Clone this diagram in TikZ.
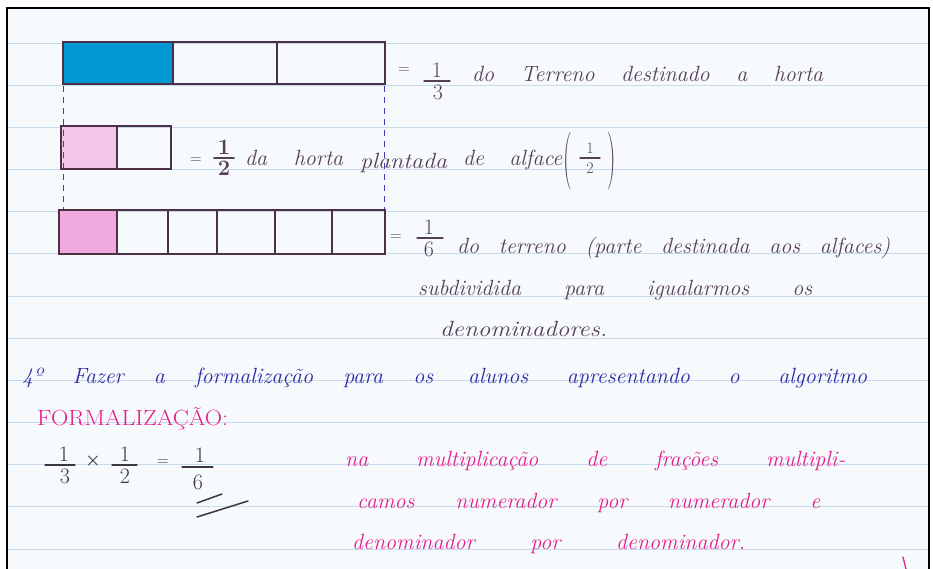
\documentclass[tikz,border=0pt]{standalone}
\usepackage{fontspec}
\usepackage{graphicx}
\definecolor{paper}{RGB}{247,250,252}
\definecolor{rulec}{RGB}{200,218,238}
\definecolor{inkc}{RGB}{85,62,88}
\definecolor{blueink}{RGB}{45,40,165}
\definecolor{pinkink}{RGB}{226,30,140}
\definecolor{boxc}{RGB}{75,50,70}
\definecolor{cyanfill}{RGB}{0,152,212}
\definecolor{pinkA}{RGB}{246,198,234}
\definecolor{pinkB}{RGB}{240,170,222}
\definecolor{dashc}{RGB}{60,60,190}
\definecolor{mathc}{RGB}{60,55,60}
\newcommand\hwl[2]{\makebox[#1][s]{#2}}
\tikzset{
  hw/.style={anchor=base west, inner sep=0pt, font=\fontsize{22}{26}\selectfont\itshape},
  dig/.style={inner sep=0pt, font=\fontsize{22}{26}\selectfont},
  sdig/.style={inner sep=0pt, font=\fontsize{16}{18}\selectfont},
  eqs/.style={inner sep=0pt, font=\fontsize{16}{18}\selectfont},
  fbar/.style={line width=1.1pt, line cap=round},
  boxline/.style={draw=boxc, line width=1.3pt},
  guide/.style={draw=dashc, line width=1pt, dash pattern=on 6pt off 5pt},
  ruling/.style={draw=rulec, line width=0.8pt},
  paren/.style={inner sep=0pt, font=\fontsize{24}{26}\selectfont}
}
\begin{document}
\begin{tikzpicture}[x=1pt,y=-1pt]
\useasboundingbox (0,0) rectangle (933,569);
\fill[white] (0,0) rectangle (933,569);
\fill[paper] (7,8) rectangle (929,569);
% ruled lines
\foreach \k in {0,...,12}{
  \draw[ruling] (8,{43+42.17*\k}) -- (928,{43+42.17*\k});
}
% frame
\draw[black, line width=2pt] (7,569) -- (7,8) -- (929,8) -- (929,569);

% bar 1 : thirds
\fill[cyanfill] (63,42) rectangle (173,84);
\draw[boxline] (63,42) rectangle (385,84);
\draw[boxline] (173,42) -- (173,84);
\draw[boxline] (277,42) -- (277,84);
% bar 2 : halves
\fill[pinkA] (61,126) rectangle (117,169);
\draw[boxline] (61,126) rectangle (171,169);
\draw[boxline] (117,126) -- (117,169);
% bar 3 : sixths
\fill[pinkB] (59,210) rectangle (117,254);
\draw[boxline] (59,210) rectangle (385,254);
\foreach \xx in {117,168,217,275,332}{
  \draw[boxline] (\xx,210) -- (\xx,254);
}
% dashed guides
\draw[guide] (63,86) -- (63,209);
\draw[guide] (384,86) -- (384,209);

% line 1
\node[eqs, text=inkc] (eq1) at (404,71) {=};
\node[dig, text=inkc, anchor=south] (n1) at (437,78) {1};
\node[dig, text=inkc, anchor=north] (d1) at (438,85) {3};
\draw[fbar, draw=inkc] (424,81) -- (450,81);
\node[hw, text=inkc] (t1) at (472,82) {\hwl{351pt}{do Terreno destinado a horta}};

% line 2
\node[eqs, text=inkc] (eq2) at (196,161) {=};
\node[dig, text=inkc, anchor=south, font=\fontsize{22}{26}\selectfont\bfseries] (n2) at (224,155) {1};
\node[dig, text=inkc, anchor=north, font=\fontsize{22}{26}\selectfont\bfseries] (d2) at (224,161) {2};
\draw[fbar, draw=inkc, line width=1.6pt] (214,158) -- (234,158);
\node[hw, text=inkc] (t2a) at (245,166) {\hwl{98pt}{da horta}};
\node[hw, text=inkc] (t2b) at (360,169) {\scalebox{1.09}[1]{plantada}};
\node[hw, text=inkc] (t2c) at (463,166) {\hwl{99pt}{de alface}};
\node[paren, text=inkc] (pl) at (568,161) {\scalebox{1}[2.4]{(}};
\node[paren, text=inkc] (pr) at (612,161) {\scalebox{1}[2.4]{)}};
\node[sdig, text=inkc, anchor=south] (n2b) at (590,154) {1};
\node[sdig, text=inkc, anchor=north] (d2b) at (590,163) {2};
\draw[fbar, draw=inkc] (580,158) -- (600,158);

% line 3
\node[eqs, text=inkc] (eq3) at (396,238) {=};
\node[dig, text=inkc, anchor=south] (n3) at (429,235) {1};
\node[dig, text=inkc, anchor=north] (d3) at (429,242) {6};
\draw[fbar, draw=inkc] (417,238) -- (443,238);
\node[hw, text=inkc] (t3) at (457,253) {\hwl{433pt}{do terreno (parte destinada aos alfaces)}};
\node[hw, text=inkc] (t4) at (418,295) {\hwl{394pt}{subdividida para igualarmos os}};
\node[hw, text=inkc] (t5) at (440,336) {\scalebox{1.14}[1]{denominadores.}};

% line 6 (blue)
\node[hw, text=blueink] (t6a) at (22,383) {\hwl{411pt}{4º Fazer a formalização para os}};
\node[hw, text=blueink] (t6b) at (468,383) {\hwl{399pt}{alunos apresentando o algoritmo}};

% formalization
\node[anchor=base west, inner sep=0pt, font=\fontsize{22}{26}\selectfont, text=pinkink] (t7) at (37,425) {\scalebox{1.09}[1]{FORMALIZAÇÃO:}};

\node[dig, text=mathc, anchor=south] (m1n) at (64,462) {1};
\node[dig, text=mathc, anchor=north] (m1d) at (65,469) {3};
\draw[fbar, draw=mathc] (45,465) -- (75,465);
\node[dig, text=mathc, font=\fontsize{18}{20}\selectfont\bfseries] (times) at (93,461) {×};
\node[dig, text=mathc, anchor=south] (m2n) at (125,462) {1};
\node[dig, text=mathc, anchor=north] (m2d) at (125,469) {2};
\draw[fbar, draw=mathc] (112,465) -- (137,465);
\node[eqs, text=mathc] (eq4) at (163,463) {=};
\node[dig, text=mathc, anchor=south] (m3n) at (200,463) {1};
\node[dig, text=mathc, anchor=north] (m3d) at (198,475) {6};
\draw[fbar, draw=mathc] (182,467) -- (213,467);
\draw[mathc, line width=1.5pt, line cap=round] (197,503) -- (222,494);
\draw[mathc, line width=1.5pt, line cap=round] (197,517) -- (248,501);

\node[hw, text=pinkink] (t8) at (345,466) {\hwl{500pt}{na multiplicação de frações multipli-}};
\node[hw, text=pinkink] (t9) at (357,508) {\hwl{463pt}{camos numerador por numerador e}};
\node[hw, text=pinkink] (t10) at (352,549) {\hwl{393pt}{denominador por denominador.}};

\draw[pinkink, line width=1.3pt, line cap=round] (903,557) -- (906,569);
\end{tikzpicture}
\end{document}
